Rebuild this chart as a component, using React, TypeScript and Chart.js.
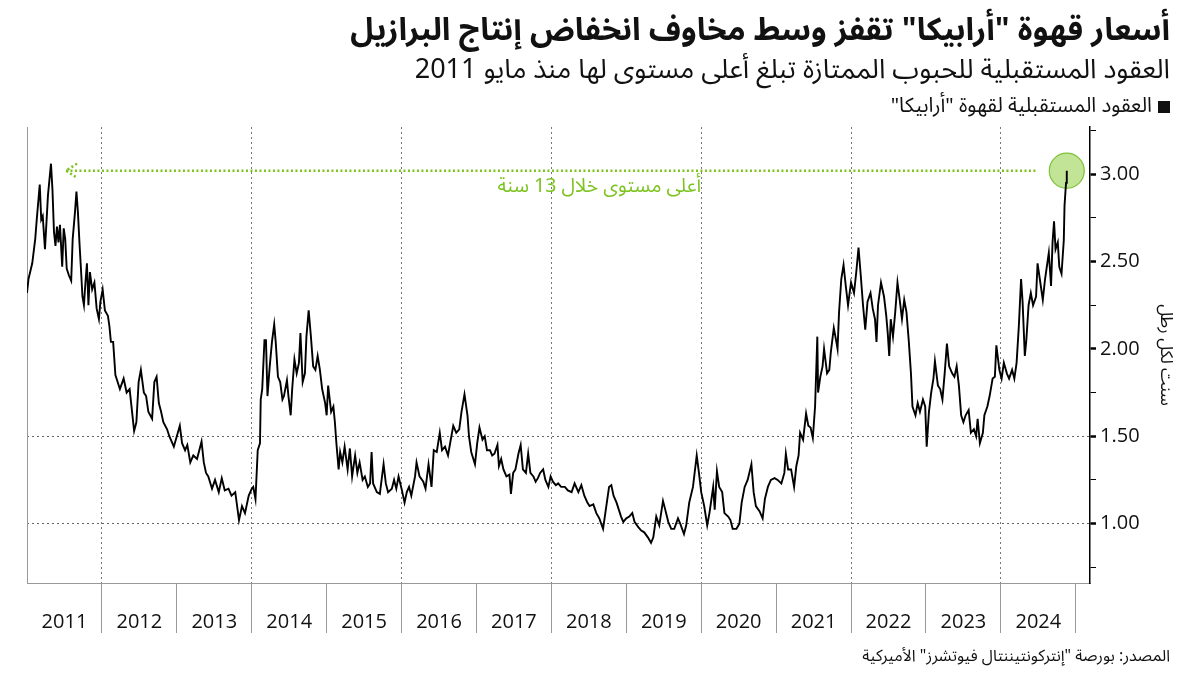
import React, { useEffect, useRef } from 'react';
import { Chart, registerables } from 'chart.js';

Chart.register(...registerables);

// ---------- DATA ----------
const dates: number[] = [
  2011.00, 2011.02, 2011.07, 2011.11, 2011.13, 2011.17, 2011.19, 2011.21, 2011.24, 2011.28,
  2011.30, 2011.32, 2011.34, 2011.36, 2011.38, 2011.40, 2011.42, 2011.44, 2011.47, 2011.49,
  2011.51, 2011.53, 2011.56, 2011.59, 2011.61, 2011.64, 2011.66, 2011.68, 2011.70, 2011.72,
  2011.74, 2011.76, 2011.78, 2011.80, 2011.82, 2011.84, 2011.87, 2011.90, 2011.93, 2011.96,
  2011.98, 2012.01, 2012.04, 2012.08, 2012.10, 2012.12, 2012.15, 2012.18, 2012.21, 2012.24,
  2012.29, 2012.33, 2012.37, 2012.40, 2012.43, 2012.46, 2012.49, 2012.52, 2012.56, 2012.59,
  2012.62, 2012.67, 2012.70, 2012.73, 2012.76, 2012.79, 2012.82, 2012.87, 2012.90, 2012.96,
  2013.00, 2013.04, 2013.07, 2013.11, 2013.14, 2013.18, 2013.22, 2013.27, 2013.30, 2013.33,
  2013.36, 2013.39, 2013.42, 2013.47, 2013.51, 2013.56, 2013.60, 2013.64, 2013.69, 2013.73,
  2013.78, 2013.83, 2013.87, 2013.91, 2013.96, 2014.00, 2014.02, 2014.05, 2014.08, 2014.11,
  2014.12, 2014.14, 2014.17, 2014.19, 2014.21, 2014.24, 2014.27, 2014.30, 2014.32, 2014.35,
  2014.38, 2014.41, 2014.43, 2014.47, 2014.49, 2014.52, 2014.54, 2014.57, 2014.60, 2014.63,
  2014.65, 2014.68, 2014.71, 2014.73, 2014.76, 2014.79, 2014.82, 2014.85, 2014.88, 2014.91,
  2014.94, 2014.98, 2015.00, 2015.02, 2015.06, 2015.09, 2015.11, 2015.13, 2015.16, 2015.18,
  2015.21, 2015.24, 2015.28, 2015.31, 2015.34, 2015.38, 2015.41, 2015.44, 2015.48, 2015.51,
  2015.55, 2015.58, 2015.60, 2015.62, 2015.67, 2015.71, 2015.76, 2015.79, 2015.82, 2015.87,
  2015.90, 2015.93, 2015.96, 2016.00, 2016.04, 2016.07, 2016.10, 2016.13, 2016.18, 2016.20,
  2016.24, 2016.29, 2016.32, 2016.36, 2016.40, 2016.43, 2016.47, 2016.51, 2016.54, 2016.58,
  2016.62, 2016.64, 2016.69, 2016.73, 2016.77, 2016.80, 2016.84, 2016.88, 2016.90, 2016.93,
  2016.98, 2017.01, 2017.04, 2017.08, 2017.11, 2017.14, 2017.18, 2017.21, 2017.24, 2017.28,
  2017.30, 2017.33, 2017.36, 2017.40, 2017.44, 2017.46, 2017.49, 2017.52, 2017.56, 2017.59,
  2017.62, 2017.66, 2017.69, 2017.72, 2017.76, 2017.79, 2017.82, 2017.85, 2017.89, 2017.92,
  2017.96, 2017.99, 2018.02, 2018.06, 2018.09, 2018.13, 2018.18, 2018.22, 2018.27, 2018.31,
  2018.36, 2018.40, 2018.44, 2018.48, 2018.51, 2018.56, 2018.60, 2018.64, 2018.69, 2018.71,
  2018.74, 2018.77, 2018.80, 2018.83, 2018.87, 2018.90, 2018.93, 2018.96, 2019.00, 2019.04,
  2019.08, 2019.11, 2019.16, 2019.20, 2019.24, 2019.29, 2019.33, 2019.36, 2019.40, 2019.44,
  2019.49, 2019.52, 2019.56, 2019.60, 2019.64, 2019.69, 2019.72, 2019.77, 2019.80, 2019.84,
  2019.89, 2019.94, 2019.97, 2020.00, 2020.04, 2020.08, 2020.11, 2020.16, 2020.18, 2020.21,
  2020.24, 2020.28, 2020.31, 2020.36, 2020.39, 2020.42, 2020.47, 2020.51, 2020.54, 2020.58,
  2020.62, 2020.67, 2020.70, 2020.73, 2020.78, 2020.82, 2020.85, 2020.89, 2020.93, 2020.98,
  2021.02, 2021.07, 2021.11, 2021.13, 2021.16, 2021.20, 2021.24, 2021.27, 2021.30, 2021.32,
  2021.36, 2021.40, 2021.43, 2021.46, 2021.49, 2021.52, 2021.55, 2021.56, 2021.59, 2021.62,
  2021.64, 2021.68, 2021.71, 2021.73, 2021.77, 2021.80, 2021.82, 2021.84, 2021.87, 2021.90,
  2021.93, 2021.96, 2022.00, 2022.04, 2022.07, 2022.10, 2022.13, 2022.16, 2022.19, 2022.22,
  2022.26, 2022.29, 2022.32, 2022.34, 2022.36, 2022.40, 2022.44, 2022.47, 2022.49, 2022.51,
  2022.53, 2022.56, 2022.59, 2022.62, 2022.65, 2022.68, 2022.71, 2022.74, 2022.77, 2022.80,
  2022.82, 2022.86, 2022.89, 2022.92, 2022.96, 2022.99, 2023.01, 2023.04, 2023.07, 2023.10,
  2023.12, 2023.16, 2023.19, 2023.22, 2023.25, 2023.28, 2023.31, 2023.35, 2023.38, 2023.41,
  2023.44, 2023.47, 2023.50, 2023.53, 2023.57, 2023.60, 2023.64, 2023.67, 2023.69, 2023.72,
  2023.76, 2023.78, 2023.82, 2023.85, 2023.89, 2023.92, 2023.94, 2023.98, 2024.01, 2024.04,
  2024.08, 2024.11, 2024.15, 2024.18, 2024.21, 2024.24, 2024.27, 2024.29, 2024.32, 2024.34,
  2024.37, 2024.40, 2024.43, 2024.47, 2024.49, 2024.52, 2024.56, 2024.59, 2024.61, 2024.64,
  2024.67, 2024.69, 2024.71, 2024.73, 2024.76, 2024.78, 2024.81, 2024.84, 2024.85, 2024.87,
  2024.88,
];

const prices: number[] = [
  2.32, 2.40, 2.49, 2.63, 2.74, 2.94, 2.74, 2.76, 2.57, 2.88,
  2.97, 3.06, 2.91, 2.67, 2.59, 2.70, 2.61, 2.71, 2.47, 2.69,
  2.63, 2.46, 2.42, 2.39, 2.63, 2.78, 2.90, 2.78, 2.61, 2.46,
  2.30, 2.25, 2.38, 2.49, 2.25, 2.44, 2.34, 2.38, 2.23, 2.17,
  2.27, 2.34, 2.22, 2.19, 2.13, 2.04, 2.04, 1.85, 1.81, 1.77,
  1.83, 1.75, 1.77, 1.65, 1.53, 1.58, 1.81, 1.88, 1.75, 1.73,
  1.64, 1.60, 1.81, 1.84, 1.69, 1.64, 1.58, 1.54, 1.50, 1.44,
  1.50, 1.56, 1.46, 1.42, 1.45, 1.35, 1.39, 1.37, 1.42, 1.47,
  1.35, 1.29, 1.27, 1.20, 1.25, 1.18, 1.26, 1.19, 1.20, 1.16,
  1.18, 1.02, 1.10, 1.06, 1.16, 1.20, 1.21, 1.14, 1.42, 1.46,
  1.71, 1.77, 2.05, 2.05, 1.73, 1.90, 2.04, 2.14, 2.04, 1.84,
  1.81, 1.71, 1.73, 1.82, 1.73, 1.62, 1.77, 1.94, 1.86, 1.92,
  2.09, 1.81, 1.86, 2.07, 2.22, 2.07, 1.90, 1.88, 1.96, 1.88,
  1.77, 1.69, 1.62, 1.79, 1.64, 1.67, 1.58, 1.46, 1.31, 1.41,
  1.35, 1.44, 1.31, 1.43, 1.27, 1.39, 1.29, 1.35, 1.25, 1.27,
  1.21, 1.23, 1.41, 1.23, 1.18, 1.17, 1.34, 1.23, 1.18, 1.20,
  1.25, 1.20, 1.27, 1.20, 1.12, 1.18, 1.21, 1.16, 1.27, 1.35,
  1.27, 1.24, 1.20, 1.34, 1.21, 1.42, 1.41, 1.52, 1.42, 1.44,
  1.39, 1.44, 1.56, 1.52, 1.54, 1.64, 1.74, 1.62, 1.50, 1.41,
  1.34, 1.46, 1.55, 1.48, 1.50, 1.42, 1.42, 1.39, 1.40, 1.45,
  1.33, 1.37, 1.31, 1.27, 1.28, 1.17, 1.29, 1.31, 1.40, 1.45,
  1.31, 1.29, 1.40, 1.29, 1.27, 1.24, 1.26, 1.29, 1.31, 1.25,
  1.21, 1.27, 1.24, 1.22, 1.23, 1.21, 1.21, 1.19, 1.18, 1.23,
  1.18, 1.22, 1.16, 1.12, 1.10, 1.11, 1.06, 1.03, 0.97, 1.03,
  1.12, 1.21, 1.22, 1.16, 1.12, 1.08, 1.04, 1.01, 1.03, 1.04,
  1.06, 1.01, 0.98, 0.96, 0.95, 0.92, 0.89, 0.92, 1.04, 0.99,
  1.13, 1.08, 1.01, 0.97, 0.97, 1.03, 1.00, 0.94, 0.99, 1.12,
  1.21, 1.39, 1.29, 1.18, 1.10, 0.99, 1.06, 1.21, 1.08, 1.30,
  1.21, 1.18, 1.06, 1.04, 1.02, 0.97, 0.97, 1.00, 1.12, 1.21,
  1.25, 1.34, 1.18, 1.10, 1.07, 1.03, 1.14, 1.21, 1.25, 1.26,
  1.25, 1.23, 1.29, 1.40, 1.31, 1.31, 1.21, 1.33, 1.39, 1.52,
  1.48, 1.63, 1.56, 1.55, 1.49, 1.67, 2.07, 1.75, 1.84, 1.90,
  2.00, 1.86, 1.88, 1.98, 2.12, 2.05, 2.00, 2.21, 2.40, 2.48,
  2.36, 2.25, 2.38, 2.32, 2.44, 2.58, 2.42, 2.25, 2.11, 2.27,
  2.32, 2.23, 2.17, 2.04, 2.25, 2.38, 2.30, 2.19, 2.09, 1.96,
  2.17, 2.07, 2.21, 2.38, 2.28, 2.17, 2.28, 2.21, 2.05, 1.86,
  1.67, 1.62, 1.69, 1.64, 1.71, 1.67, 1.44, 1.64, 1.75, 1.83,
  1.93, 1.79, 1.77, 1.71, 1.86, 2.03, 1.90, 1.86, 1.84, 1.90,
  1.79, 1.62, 1.58, 1.62, 1.65, 1.52, 1.54, 1.50, 1.60, 1.46,
  1.52, 1.62, 1.67, 1.73, 1.83, 1.84, 2.02, 1.88, 1.83, 1.92,
  1.86, 1.83, 1.88, 1.83, 1.92, 2.13, 2.40, 2.27, 1.96, 2.05,
  2.25, 2.32, 2.25, 2.30, 2.49, 2.40, 2.28, 2.40, 2.46, 2.55,
  2.36, 2.61, 2.73, 2.57, 2.61, 2.47, 2.43, 2.62, 2.82, 2.95,
  3.02,
];

const yearTicks: number[] = [2011, 2012, 2013, 2014, 2015, 2016, 2017, 2018, 2019, 2020, 2021, 2022, 2023, 2024, 2025];
const yearLabels: string[] = ['2011', '2012', '2013', '2014', '2015', '2016', '2017', '2018', '2019', '2020', '2021', '2022', '2023', '2024'];
const yTicks: number[] = [0.75, 1.0, 1.25, 1.5, 1.75, 2.0, 2.25, 2.5, 2.75, 3.0, 3.25];
const yLabeled: number[] = [1.0, 1.5, 2.0, 2.5, 3.0];
const yGridAt: number[] = [1.0, 1.5];
const xGridYears: number[] = [2012, 2014, 2016, 2018, 2020, 2022, 2024];
const xRange: number[] = [2011, 2025.19];
const yRange: number[] = [0.66, 3.27];
const highLineYears: number[] = [2011.52, 2024.47];

const TITLE = 'أسعار قهوة "أرابيكا" تقفز وسط مخاوف انخفاض إنتاج البرازيل';
const SUBTITLE = 'العقود المستقبلية للحبوب الممتازة تبلغ أعلى مستوى لها منذ مايو 2011';
const LEGEND = 'العقود المستقبلية لقهوة "أرابيكا"';
const SOURCE = 'المصدر: بورصة "إنتركونتيننتال فيوتشرز" الأميركية';
const Y_TITLE = 'سنت لكل رطل';
const NOTE = 'أعلى مستوى خلال 13 سنة';
const NOTE_YEAR = 2018.64;

const GREEN = '#7cc31f';
const AR_FONT = '"Noto Sans Arabic", "DejaVu Sans", sans-serif';
const NUM_FONT = '"Open Sans", "DejaVu Sans", sans-serif';

const annotationPlugin = {
  id: 'annot',
  beforeDatasetsDraw(chart: any) {
    const { ctx, chartArea } = chart;
    ctx.save();
    ctx.strokeStyle = '#999';
    ctx.lineWidth = 1;
    ctx.beginPath();
    ctx.moveTo(chartArea.left + 0.5, chartArea.top);
    ctx.lineTo(chartArea.left + 0.5, chartArea.bottom);
    ctx.stroke();
    ctx.restore();
  },
  afterDatasetsDraw(chart: any) {
    const { ctx } = chart;
    const meta = chart.getDatasetMeta(2);
    const p0 = meta.data[0];
    if (!p0) return;
    ctx.save();
    ctx.strokeStyle = GREEN;
    ctx.lineWidth = 2.5;
    ctx.setLineDash([2, 2.5]);
    ctx.beginPath();
    ctx.moveTo(p0.x + 11, p0.y - 7);
    ctx.lineTo(p0.x, p0.y);
    ctx.lineTo(p0.x + 11, p0.y + 7);
    ctx.stroke();
    ctx.setLineDash([]);
    const xs = chart.scales.x;
    ctx.fillStyle = GREEN;
    ctx.font = `19.5px ${AR_FONT}`;
    ctx.textAlign = 'center';
    ctx.textBaseline = 'middle';
    (ctx as any).direction = 'rtl';
    ctx.fillText(NOTE, xs.getPixelForValue(NOTE_YEAR), p0.y + 18);
    ctx.restore();
  },
};

export default function App() {
  const ref = useRef<HTMLCanvasElement | null>(null);

  useEffect(() => {
    const canvas = ref.current;
    if (!canvas) return;
    const last = prices.length - 1;
    const level = prices[last];
    const chart = new Chart(canvas, {
      type: 'line',
      data: {
        datasets: [
          {
            label: 'arabica',
            data: dates.map((d, i) => ({ x: d, y: prices[i] })),
            borderColor: '#000',
            borderWidth: 1.9,
            pointRadius: 0,
            tension: 0,
            fill: false,
            order: 1,
          },
          {
            label: 'high',
            data: [{ x: dates[last], y: prices[last] }],
            showLine: false,
            pointRadius: 17.5,
            pointBackgroundColor: 'rgba(160, 214, 95, 0.65)',
            pointBorderColor: '#80c03a',
            pointBorderWidth: 1.2,
            order: 2,
          },
          {
            label: 'level',
            data: highLineYears.map((x) => ({ x, y: level })),
            borderColor: GREEN,
            borderWidth: 2.5,
            borderDash: [2, 2.5],
            pointRadius: 0,
            fill: false,
            order: 3,
          },
        ] as any,
      },
      options: {
        animation: false,
        responsive: false,
        events: [],
        layout: { padding: { left: 27, top: 127, right: 0, bottom: 0 } },
        plugins: { legend: { display: false }, tooltip: { enabled: false } },
        scales: {
          x: {
            type: 'linear',
            min: xRange[0],
            max: xRange[1],
            afterBuildTicks: (scale: any) => {
              const t: any[] = [];
              yearTicks.forEach((y) => {
                t.push({ value: y });
                if (y < yearTicks[yearTicks.length - 1]) t.push({ value: y + 0.5 });
              });
              scale.ticks = t;
            },
            afterFit: (scale: any) => {
              scale.height = 92;
            },
            grid: {
              color: (c: any) => {
                const v = c.tick ? c.tick.value : null;
                return v !== null && xGridYears.includes(v) ? '#777' : 'rgba(0,0,0,0)';
              },
              tickColor: (c: any) => {
                const v = c.tick ? c.tick.value : null;
                return v !== null && Number.isInteger(v) && v > yearTicks[0] ? '#999' : 'rgba(0,0,0,0)';
              },
              lineWidth: 1,
              tickWidth: 1,
              tickLength: 50,
              tickBorderDash: [],
            },
            border: { display: true, color: '#999', width: 1, dash: [2, 3] },
            ticks: {
              autoSkip: false,
              maxRotation: 0,
              padding: -23,
              color: '#111',
              font: { family: NUM_FONT, size: 20 },
              callback: (v: any) => {
                const n = Number(v);
                if (Number.isInteger(n)) return '';
                const idx = yearTicks.indexOf(Math.floor(n));
                return idx >= 0 ? yearLabels[idx] : '';
              },
            },
          },
          y: {
            type: 'linear',
            position: 'right',
            min: yRange[0],
            max: yRange[1],
            afterBuildTicks: (scale: any) => {
              scale.ticks = yTicks.map((v) => ({ value: v }));
            },
            afterFit: (scale: any) => {
              scale.width = 110;
            },
            grid: {
              color: (c: any) => {
                const v = c.tick ? c.tick.value : null;
                return v !== null && yGridAt.includes(v) ? '#666' : 'rgba(0,0,0,0)';
              },
              tickColor: '#000',
              tickWidth: (c: any) => {
                const v = c.tick ? c.tick.value : null;
                return v !== null && yLabeled.includes(v) ? 2.5 : 1;
              },
              tickLength: 6,
              tickBorderDash: [],
            },
            border: { display: true, color: '#000', width: 1.5, dash: [2, 3] },
            ticks: {
              padding: 4,
              color: '#111',
              font: { family: NUM_FONT, size: 20 },
              callback: (v: any) => {
                const n = Number(v);
                return yLabeled.includes(n) ? n.toFixed(2) : '';
              },
            },
            title: {
              display: true,
              text: Y_TITLE,
              color: '#111',
              font: { family: AR_FONT, size: 17 },
              padding: { top: 26, bottom: 0 },
            },
          },
        },
      } as any,
      plugins: [annotationPlugin],
    });
    return () => chart.destroy();
  }, []);

  const base: React.CSSProperties = {
    position: 'absolute',
    right: 30,
    direction: 'rtl',
    textAlign: 'right',
    fontFamily: AR_FONT,
    color: '#111',
    whiteSpace: 'nowrap',
  };

  return (
    <div style={{ position: 'absolute', left: 0, top: 0, width: 1200, height: 675, background: '#fff', overflow: 'hidden' }}>
      <canvas ref={ref} width={1200} height={675} style={{ position: 'absolute', left: 0, top: 0, width: 1200, height: 675 }} />
      <div style={{ ...base, top: 8, fontSize: 31.5, fontWeight: 700, lineHeight: '44px' }}>{TITLE}</div>
      <div style={{ ...base, top: 51, fontSize: 27, lineHeight: '38px' }}>{SUBTITLE}</div>
      <div style={{ ...base, top: 92, fontSize: 20.5, lineHeight: '28px' }}>
        <span style={{ display: 'inline-block', width: 12, height: 12, background: '#111', marginLeft: 6, verticalAlign: 'middle' }} />
        {LEGEND}
      </div>
      <div style={{ ...base, top: 643, fontSize: 16, lineHeight: '26px' }}>{SOURCE}</div>
    </div>
  );
}
